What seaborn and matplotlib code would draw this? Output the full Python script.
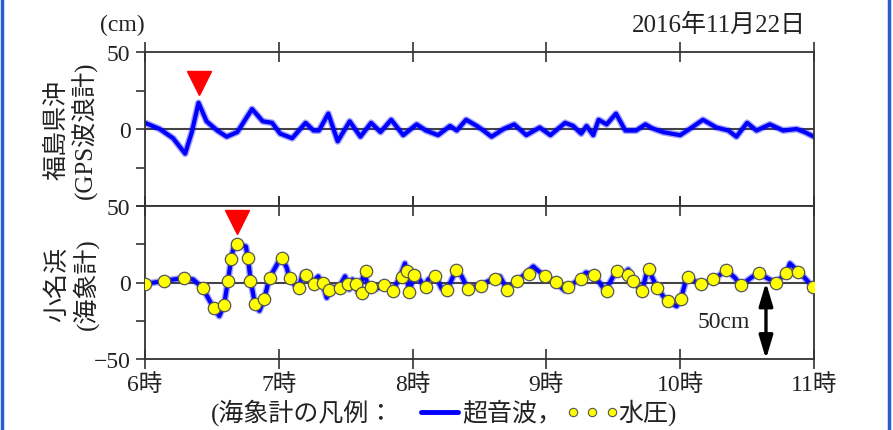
import numpy as np
import pandas as pd
import matplotlib
matplotlib.use("Agg")
import matplotlib.pyplot as plt
import matplotlib.patheffects as pe
from matplotlib.lines import Line2D
import seaborn as sns

# ---- data -------------------------------------------------------------
# Fukushima offshore GPS wave gauge (hours, cm)
gps_time = [6.00, 6.11, 6.21, 6.30, 6.35, 6.40, 6.46, 6.54, 6.61, 6.69, 6.80, 6.88,
            6.95, 7.01, 7.10, 7.20, 7.26, 7.30, 7.37, 7.44, 7.53, 7.61, 7.69, 7.76,
            7.84, 7.93, 8.03, 8.10, 8.19, 8.28, 8.33, 8.40, 8.48, 8.53, 8.59, 8.68,
            8.76, 8.85, 8.95, 9.03, 9.14, 9.20, 9.26, 9.30, 9.35, 9.39, 9.45, 9.52,
            9.59, 9.67, 9.74, 9.79, 9.87, 10.00, 10.07, 10.17, 10.27, 10.36, 10.42,
            10.50, 10.57, 10.67, 10.77, 10.87, 10.93, 11.00]
gps_cm = [4, 0, -6, -16, -2, 17, 5, -1, -5, -2, 13, 5,
          4, -3, -6, 4, -1, -1, 10, -8, 5, -5, 4, -2,
          6, -4, 3, -1, -4, 2, -1, 6, 2, -1, -5, 0,
          3, -4, 1, -4, 4, 2, -3, 2, -4, 6, 3, 10,
          -1, -1, 3, 0.5, -2, -4, 0, 6, 1, -1, -5,
          4, -1, 3, -1, 0, -2, -5]

# Onahama ocean-wave gauge, ultrasonic sensor (hours, cm)
sonic_time = [6.00, 6.14, 6.29, 6.36, 6.43, 6.49, 6.555, 6.59, 6.62, 6.645, 6.67, 6.72,
              6.755, 6.775, 6.79, 6.822, 6.855, 6.89, 6.93, 7.02, 7.06, 7.08, 7.145,
              7.18, 7.21, 7.25, 7.295, 7.333, 7.358, 7.395, 7.45, 7.495, 7.527, 7.55,
              7.594, 7.639, 7.66, 7.687, 7.72, 7.79, 7.85, 7.906, 7.943, 7.958, 7.973,
              8.018, 8.09, 8.117, 8.17, 8.217, 8.257, 8.326, 8.367, 8.413, 8.47, 8.51,
              8.616, 8.653, 8.705, 8.78, 8.853, 8.902, 8.94, 8.99, 9.07, 9.139, 9.164,
              9.259, 9.296, 9.357, 9.44, 9.525, 9.58, 9.612, 9.65, 9.712, 9.762, 9.787,
              9.83, 9.873, 9.923, 9.973, 10.004, 10.04, 10.061, 10.154, 10.245, 10.297,
              10.341, 10.41, 10.453, 10.52, 10.587, 10.647, 10.714, 10.793, 10.82,
              10.878, 10.92, 10.993]
sonic_cm = [-1, 1, 3, 2, -3.5, -13, -22, -15, 1, 16, 26, 24.5,
            23.5, 12, 1, -14, -18.5, -11, 3, 17, 9.5, 2.5, -4.5,
            6, 6.5, 0, 4, -2.5, -10, -3.5, -3, 4, -4.5, 2,
            -6.5, 6.5, 0, -3, -4.5, -1.5, -6, 4, 12.5, 4, -6.5,
            6.5, -3, 2, 4.5, -4, -5, 8.5, 4, -4, -2.5, -1.5,
            3, 4, -4.5, 1, 6.5, 10.5, 7.5, 4.5, 0, -5.5, -3,
            3, 6.5, 5, -5.5, 8, 6, 8.5, 2, -6.5, 10.5, 4,
            -3.5, -9, -13, -15.5, -11, 0.5, 3.5, -1.5, 2, 5,
            8.5, 3, -2, 2.5, 6.5, 3, 0, 6, 12.5,
            7.5, 4, -3]

# Onahama ocean-wave gauge, pressure sensor (hours, cm)
press_time = [6.00, 6.142, 6.289, 6.431, 6.518, 6.588, 6.623, 6.641, 6.690, 6.768,
              6.787, 6.822, 6.892, 6.934, 7.022, 7.081, 7.153, 7.201, 7.263, 7.328,
              7.375, 7.454, 7.517, 7.577, 7.624, 7.649, 7.687, 7.788, 7.852, 7.922,
              7.957, 7.973, 8.013, 8.099, 8.169, 8.257, 8.326, 8.413, 8.511, 8.616,
              8.705, 8.782, 8.870, 8.987, 9.072, 9.164, 9.259, 9.357, 9.453, 9.525,
              9.610, 9.649, 9.712, 9.768, 9.830, 9.911, 10.004, 10.061, 10.154, 10.245,
              10.341, 10.453, 10.587, 10.714, 10.793, 10.878, 10.993]
press_cm = [-1.3, 1, 3, -3.5, -16.5, -15, 1, 15.5, 25, 16,
            1, -14, -11, 3, 16, 3, -3.5, 5, -1, -0.5,
            -5, -3.5, -1, -1, -7, 7.5, -3, -1.5, -5.5, 3.5,
            7.8, -6.5, 5, -2.8, 4.2, -5, 8, -4, -2.5, 2,
            -4.8, 1, 5.8, 4.2, 0.3, -3, 2.5, 5, -5.3, 7.7,
            5, 1.2, -5.5, 9, -3.6, -12.2, -10.8, 3.6, -1.2, 2,
            8, -1.5, 6, -0.3, 6, 6.8, -3]

# first-wave arrival markers (hours, cm)
arrival_time = [6.40, 6.69]
arrival_cm = [30, 39.5]

hour_ticks = [6, 7, 8, 9, 10, 11]
hour_labels = ["6時", "7時", "8時", "9時", "10時", "11時"]

# ---- style ------------------------------------------------------------
sns.set_theme(style="white")
plt.rcParams["font.family"] = ["Liberation Serif", "Noto Sans CJK JP"]
plt.rcParams["axes.unicode_minus"] = True

BLUE = "#0000ff"
YELLOW = "#ffff00"
INK = "#333333"
TXT = "#222222"
FS = 17

W, H = 893, 431
fig = plt.figure(figsize=(W / 100, H / 100), dpi=100)
fig.patch.set_facecolor("white")

def fx(px):
    return px / W

def fy(py):
    return 1 - py / H

left, right = 145, 814
ax1 = fig.add_axes([fx(left), fy(207), fx(right) - fx(left), fy(53) - fy(207)])
ax2 = fig.add_axes([fx(left), fy(360), fx(right) - fx(left), fy(207) - fy(360)])

gps = pd.DataFrame({"time": gps_time, "cm": gps_cm})
sonic = pd.DataFrame({"time": sonic_time, "cm": sonic_cm})
press = pd.DataFrame({"time": press_time, "cm": press_cm})

for ax in (ax1, ax2):
    ax.set_xlim(6, 11)
    ax.set_ylim(-50, 50)
    ax.axhline(0, color="#444444", lw=1.5, zorder=1)
    for sp in ax.spines.values():
        sp.set_color(INK)
        sp.set_linewidth(1.3)
    ax.set_xticks(hour_ticks)
    ax.tick_params(axis="x", which="major", direction="inout", length=14.5,
                   width=1.2, color=INK, top=True, bottom=True, pad=3,
                   labelsize=FS, labelcolor=TXT)
    ax.set_yticks([50, 0, -50])
    ax.set_yticks([25, -25], minor=True)
    ax.tick_params(axis="y", which="both", direction="out", length=6.5,
                   width=1.2, color=INK, left=True, pad=4,
                   labelsize=FS, labelcolor=TXT)

# soft halo around the wave traces, like a dense trail of sample crosses
halo = [pe.Stroke(linewidth=5.0, foreground=BLUE, alpha=0.35), pe.Normal()]

sns.lineplot(data=gps, x="time", y="cm", ax=ax1, color=BLUE, lw=3.0,
             sort=False, estimator=None, zorder=2)
sns.lineplot(data=sonic, x="time", y="cm", ax=ax2, color=BLUE, lw=3.0,
             sort=False, estimator=None, zorder=2)
for ax in (ax1, ax2):
    for ln in ax.get_lines()[1:]:
        ln.set_solid_joinstyle("round")
        ln.set_solid_capstyle("round")
        ln.set_path_effects(halo)

sns.scatterplot(data=press, x="time", y="cm", ax=ax2, s=80, color=YELLOW,
                edgecolor="#555555", linewidth=0.9, zorder=3)

for ax, t, v in zip((ax1, ax2), arrival_time, arrival_cm):
    ax.plot([t], [v], marker="v", ms=17, color="#ff0000", mec="#ff0000",
            ls="none", zorder=4)

for ax in (ax1, ax2):
    ax.set_xlabel("")
    ax.set_ylabel("")

ax1.set_xticklabels([])
ax1.set_yticklabels(["50", "0", ""])
ax2.set_xticklabels(hour_labels)
ax2.set_yticklabels(["50", "0", "−50"])

# 50 cm scale bar
ax2.annotate("", xy=(10.641, -50), xytext=(10.641, 0),
             arrowprops=dict(arrowstyle="<|-|>,head_width=0.3,head_length=1.0",
                             color="black", lw=2.4, mutation_scale=14,
                             shrinkA=0, shrinkB=0), zorder=5)
ax2.text(10.52, -25.5, "50cm", ha="right", va="center", fontsize=FS,
         color=TXT)

# titles and station labels
fig.text(fx(145), fy(25), "(cm)", ha="right", va="center", fontsize=FS,
         color=TXT)
fig.text(fx(806), fy(25), "2016年11月22日", ha="right", va="center",
         fontsize=FS + 1, color=TXT)
fig.text(fx(72), fy(130), "福島県沖\n(GPS波浪計)", rotation=90, ha="center",
         va="center", multialignment="center", linespacing=1.15,
         fontsize=FS + 1, color=TXT)
fig.text(fx(72), fy(284), "小名浜\n(海象計)", rotation=90, ha="center",
         va="center", multialignment="center", linespacing=1.15,
         fontsize=FS + 1, color=TXT)

# legend row for the wave gauge
ly = fy(413)
fig.text(fx(211), ly, "(海象計の凡例：", ha="left", va="center",
         fontsize=FS + 1, color=TXT)
fig.add_artist(Line2D([fx(421), fx(458)], [ly, ly], color=BLUE, lw=3.5,
                      transform=fig.transFigure))
fig.text(fx(462), ly, "超音波，", ha="left", va="center",
         fontsize=FS + 1, color=TXT)
fig.add_artist(Line2D([fx(573), fx(592), fx(612)], [ly, ly, ly], ls="none",
                      marker="o", ms=6, mfc=YELLOW, mec="#555555", mew=0.8,
                      transform=fig.transFigure))
fig.text(fx(618), ly, "水圧)", ha="left", va="center",
         fontsize=FS + 1, color=TXT)

# side frame lines
for xp in (1.5, 888.5):
    fig.add_artist(Line2D([fx(xp), fx(xp)], [0, 1], color="#2a5bd7", lw=2.5,
                          transform=fig.transFigure))

fig.savefig("out.png", dpi=100)
